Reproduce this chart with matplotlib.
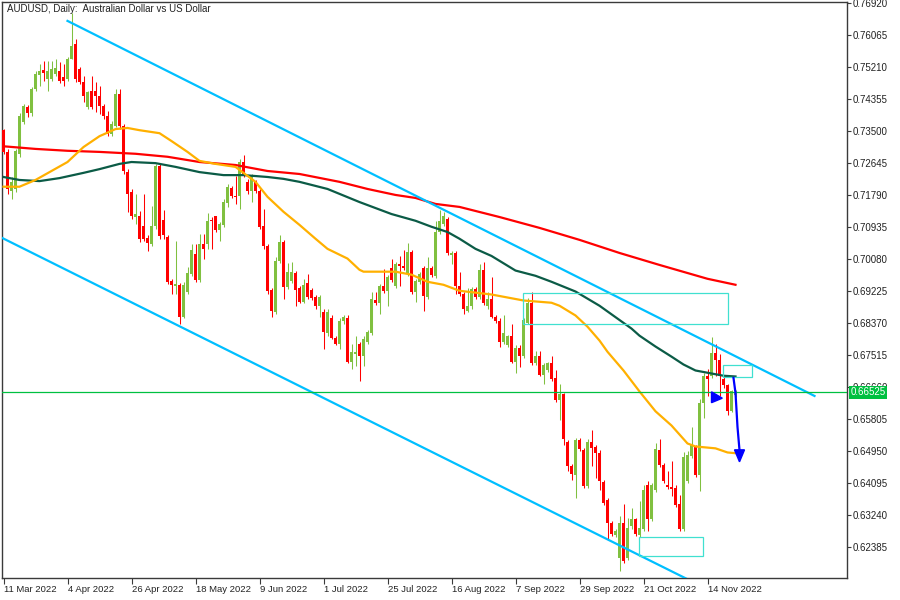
import numpy as np
import matplotlib.pyplot as plt
from matplotlib.patches import Rectangle, Polygon
from matplotlib.transforms import blended_transform_factory

plt.rcParams['font.family'] = ['Liberation Sans', 'DejaVu Sans']

# Daily candles (bar index 0 = 11 Mar 2022)
opens = [
    .7353, .7295, .7191, .7196, .7290, .7375, .7415, .7398, .7463, .7500,
    .7513, .7489, .7489, .7503, .7511, .7495, .7489, .7543, .7583, .7516,
    .7481, .7415, .7458, .7458, .7444, .7417, .7390, .7343, .7364, .7450,
    .7364, .7241, .7188, .7121, .7124, .7097, .7066, .7050, .7097, .7257,
    .7113, .7068, .6951, .6938, .6940, .6855, .6922, .6970, .7023, .6954,
    .7050, .7050, .7113, .7124, .7087, .7100, .7159, .7199, .7177, .7177,
    .7268, .7215, .7191, .7215, .7191, .7097, .7044, .6927, .6868, .7004,
    .7055, .6935, .6951, .6972, .6932, .6895, .6946, .6927, .6908, .6882,
    .6868, .6810, .6852, .6799, .6783, .6842, .6850, .6735, .6756, .6783,
    .6751, .6788, .6812, .6900, .6890, .6938, .6924, .6986, .6938, .6996,
    .6991, .6970, .7028, .6922, .6948, .6986, .6908, .6986, .6964, .7081,
    .7103, .7116, .7020, .7025, .6938, .6916, .6871, .6882, .6930, .6908,
    .6980, .6882, .6903, .6855, .6844, .6788, .6780, .6802, .6735, .6772,
    .6751, .6839, .6890, .6732, .6751, .6700, .6713, .6730, .6692, .6633,
    .6647, .6519, .6455, .6431, .6524, .6498, .6402, .6519, .6506, .6490,
    .6412, .6364, .6303, .6271, .6210, .6303, .6210, .6295, .6314, .6271,
    .6287, .6404, .6314, .6391, .6498, .6458, .6404, .6399, .6396, .6354,
    .6287, .6415, .6482, .6506, .6431, .6623, .6697, .6697, .6759, .6740,
    .6689, .6671, .6604, .6645,
]
highs = [
    .7356, .7303, .7228, .7303, .7398, .7423, .7420, .7468, .7511, .7530,
    .7538, .7538, .7538, .7543, .7535, .7530, .7548, .7665, .7596, .7521,
    .7497, .7458, .7497, .7481, .7471, .7423, .7404, .7378, .7463, .7463,
    .7370, .7249, .7196, .7183, .7138, .7183, .7073, .7151, .7263, .7263,
    .7140, .7073, .6956, .7058, .6946, .6948, .6988, .7050, .7050, .7076,
    .7076, .7132, .7121, .7124, .7108, .7169, .7209, .7204, .7231, .7276,
    .7287, .7223, .7236, .7220, .7196, .7143, .7050, .6932, .7015, .7073,
    .7060, .6999, .7001, .6978, .6938, .6956, .6970, .6932, .6914, .6914,
    .6876, .6876, .6858, .6804, .6850, .6860, .6858, .6783, .6804, .6788,
    .6802, .6820, .6922, .6922, .6943, .6983, .6967, .7010, .7002, .7018,
    .7034, .7052, .7034, .6956, .6975, .6991, .7015, .6991, .7111, .7140,
    .7135, .7121, .7031, .7031, .6975, .6922, .6932, .6935, .6935, .6996,
    .7002, .6922, .6962, .6860, .6850, .6860, .6807, .6836, .6778, .6778,
    .6852, .6906, .6922, .6764, .6764, .6732, .6735, .6751, .6711, .6676,
    .6652, .6524, .6460, .6530, .6530, .6503, .6527, .6551, .6511, .6498,
    .6418, .6370, .6308, .6287, .6322, .6354, .6316, .6343, .6316, .6362,
    .6404, .6415, .6410, .6516, .6527, .6463, .6442, .6468, .6404, .6378,
    .6492, .6495, .6559, .6511, .6636, .6705, .6716, .6801, .6783, .6756,
    .6695, .6676, .6660, .6660,
]
lows = [
    .7290, .7183, .7169, .7188, .7282, .7370, .7388, .7390, .7458, .7471,
    .7484, .7458, .7484, .7497, .7479, .7471, .7484, .7543, .7481, .7476,
    .7428, .7409, .7409, .7401, .7396, .7383, .7337, .7337, .7361, .7356,
    .7236, .7135, .7116, .7103, .7055, .7058, .7031, .7044, .7089, .7063,
    .7063, .6943, .6916, .6916, .6834, .6850, .6916, .6964, .6948, .6948,
    .7010, .7036, .7036, .7081, .7058, .7095, .7148, .7172, .7156, .7143,
    .7228, .7183, .7161, .7185, .7089, .7036, .6916, .6855, .6863, .6999,
    .6903, .6930, .6946, .6884, .6890, .6890, .6903, .6900, .6876, .6855,
    .6769, .6804, .6794, .6778, .6769, .6836, .6730, .6716, .6724, .6684,
    .6724, .6783, .6807, .6887, .6863, .6919, .6882, .6948, .6932, .6938,
    .6980, .6964, .6916, .6895, .6943, .6871, .6903, .6962, .6959, .7076,
    .7097, .7020, .6996, .6916, .6911, .6863, .6866, .6876, .6903, .6903,
    .6887, .6876, .6850, .6839, .6775, .6783, .6775, .6730, .6703, .6719,
    .6745, .6834, .6727, .6727, .6695, .6676, .6708, .6684, .6628, .6578,
    .6513, .6442, .6418, .6370, .6495, .6396, .6396, .6455, .6423, .6391,
    .6351, .6258, .6269, .6266, .6175, .6197, .6205, .6287, .6269, .6266,
    .6282, .6282, .6308, .6386, .6452, .6410, .6394, .6375, .6346, .6282,
    .6282, .6410, .6476, .6426, .6388, .6583, .6644, .6692, .6695, .6644,
    .6665, .6591, .6599, .6639,
]
closes = [
    .7295, .7196, .7215, .7298, .7390, .7417, .7398, .7463, .7503, .7511,
    .7505, .7511, .7516, .7519, .7484, .7484, .7543, .7577, .7489, .7481,
    .7444, .7455, .7415, .7444, .7417, .7390, .7343, .7370, .7450, .7364,
    .7244, .7183, .7124, .7129, .7063, .7063, .7052, .7097, .7257, .7071,
    .7073, .6948, .6940, .6943, .6855, .6940, .6972, .7033, .6954, .7050,
    .7036, .7111, .7111, .7087, .7103, .7161, .7201, .7177, .7175, .7268,
    .7236, .7191, .7231, .7191, .7095, .7044, .6924, .6871, .7004, .7055,
    .6935, .6975, .6975, .6927, .6895, .6940, .6908, .6906, .6882, .6908,
    .6815, .6868, .6799, .6783, .6844, .6855, .6735, .6761, .6761, .6751,
    .6796, .6815, .6903, .6892, .6938, .6924, .6962, .6954, .6996, .6991,
    .6986, .7028, .6922, .6951, .6970, .6911, .6986, .6967, .7081, .7111,
    .7124, .7025, .7025, .6938, .6916, .6876, .6882, .6930, .6908, .6980,
    .6892, .6903, .6855, .6844, .6788, .6812, .6802, .6735, .6772, .6751,
    .6847, .6892, .6732, .6751, .6700, .6727, .6730, .6689, .6633, .6647,
    .6527, .6455, .6434, .6524, .6500, .6402, .6519, .6503, .6490, .6415,
    .6356, .6303, .6274, .6282, .6303, .6202, .6290, .6314, .6274, .6290,
    .6391, .6314, .6404, .6500, .6458, .6415, .6399, .6394, .6351, .6287,
    .6479, .6484, .6511, .6431, .6623, .6697, .6687, .6759, .6740, .6697,
    .6671, .6604, .6655, .66525,
]

# moving averages, read at selected bars
ma_fast_x = [0, 4, 8, 12, 16, 20, 24, 28, 31, 34, 39, 42, 46, 49, 53, 58, 63, 66, 70, 74,
             78, 81, 86, 89, 90, 98, 102, 106, 110, 114, 122, 130, 137, 139, 143, 146,
             149, 151, 155, 159, 163, 167, 171, 173, 178, 181, 183]
ma_fast_y = [.7202, .7202, .7220, .7244, .7268, .7308, .7337, .7356, .7359, .7353, .7345,
             .7324, .7295, .7271, .7263, .7255, .7215, .7175, .7135, .7100, .7063, .7036,
             .7010, .6980, .6975, .6975, .6967, .6948, .6940, .6924, .6914, .6898, .6892,
             .6884, .6858, .6828, .6791, .6761, .6711, .6655, .6602, .6564, .6516, .6508,
             .6503, .6492, .6490]
ma_mid_x = [0, 4, 9, 14, 20, 24, 29, 32, 38, 43, 49, 55, 60, 66, 70, 74, 81, 89, 97, 103,
            107, 111, 114, 118, 122, 128, 133, 137, 143, 149, 157, 159, 163, 167, 170, 173,
            177, 180, 183]
ma_mid_y = [.7228, .7220, .7217, .7225, .7239, .7249, .7263, .7268, .7265, .7255, .7241,
            .7233, .7233, .7228, .7223, .7215, .7196, .7161, .7129, .7111, .7095, .7081,
            .7063, .7036, .7017, .6978, .6964, .6948, .6922, .6884, .6823, .6804, .6775,
            .6748, .6727, .6711, .6703, .6697, .6695]
ma_slow_x = [0, 8, 16, 24, 33, 41, 49, 58, 66, 74, 84, 91, 98, 103, 108, 114, 124, 134,
             144, 154, 164, 176, 183]
ma_slow_y = [.7310, .7303, .7298, .7295, .7290, .7282, .7268, .7260, .7244, .7236, .7215,
             .7196, .7180, .7172, .7156, .7148, .7121, .7092, .7060, .7025, .6993, .6956,
             .6940]

# drawn objects: channel, zones, projection
channel_top = [(16, 0.7645), (202.75, 0.6643)]
channel_bottom = [(-2, 0.7074), (172, 0.6148)]
zones = [(129.75, 181.0, 0.6835, 0.6918),
         (179.75, 187.0, 0.6694, 0.6726),
         (158.75, 174.75, 0.6215, 0.6266)]
proj_x = [182.5, 183.0, 183.5, 184.0]
proj_y = [0.6691, 0.6651, 0.6560, 0.6498]
last_price = 0.66525

date_pos = [0, 16, 32, 48, 64, 80, 96, 112, 128, 144, 160, 176]
date_labels = ["11 Mar 2022", "4 Apr 2022", "26 Apr 2022", "18 May 2022", "9 Jun 2022",
               "1 Jul 2022", "25 Jul 2022", "16 Aug 2022", "7 Sep 2022", "29 Sep 2022",
               "21 Oct 2022", "14 Nov 2022"]
price_ticks = [0.76920, 0.76065, 0.75210, 0.74355, 0.73500, 0.72645, 0.71790, 0.70935,
               0.70080, 0.69225, 0.68370, 0.67515, 0.66660, 0.65805, 0.64950, 0.64095,
               0.63240, 0.62385]

bull = '#80C040'
bear = '#FF0000'
frame = '#3A3A3A'

fig = plt.figure(figsize=(9, 6), dpi=100)
ax = fig.add_axes([2 / 900, 22 / 600, 845 / 900, 576 / 600])

o = np.array(opens)
h = np.array(highs)
l = np.array(lows)
c = np.array(closes)
idx = np.arange(len(c))
cols = np.where(c >= o, bull, bear)

ax.vlines(idx, l, h, colors=cols, lw=0.75, zorder=2)
ax.bar(idx, np.maximum(np.abs(c - o), 0.0003), bottom=np.minimum(o, c),
       width=0.75, color=cols, linewidth=0, zorder=3)

ax.plot(ma_slow_x, ma_slow_y, color='#FF0000', lw=1.6, zorder=4)
ax.plot(ma_mid_x, ma_mid_y, color='#0B5B46', lw=1.6, zorder=4)
ax.plot(ma_fast_x, ma_fast_y, color='#FFB000', lw=1.6, zorder=4)

for line in (channel_top, channel_bottom):
    xs, ys = zip(*line)
    ax.plot(xs, ys, color='#00BFFF', lw=1.6, zorder=5)

for x0, x1, y0, y1 in zones:
    ax.add_patch(Rectangle((x0, y0), x1 - x0, y1 - y0, fill=False,
                           edgecolor='#40E0D0', lw=0.9, zorder=5))

ax.axhline(last_price, color='#00C040', lw=0.9, zorder=5)

# blue projection arrow and marker
ax.plot(proj_x, proj_y, color='#0000FF', lw=1.6, zorder=6)
ax.add_patch(Polygon([(182.75, 0.6499), (185.25, 0.6499), (184.0, 0.6467)],
                     closed=True, color='#0000FF', zorder=6))
ax.add_patch(Polygon([(177.0, 0.6654), (177.0, 0.6625), (179.7, 0.6637)],
                     closed=True, color='#0000FF', zorder=6))

# shifted by an eighth of a bar so bodies sit on whole pixels
ax.set_xlim(-0.375, 210.875)
ax.set_ylim(0.61566, 0.76955)

ax.yaxis.tick_right()
ax.set_yticks(price_ticks)
ax.set_yticklabels([f"{p:.5f}" for p in price_ticks])
ax.set_xticks(date_pos)
ax.set_xticklabels(date_labels)
for lab in ax.get_xticklabels():
    lab.set_horizontalalignment('left')

ax.tick_params(axis='y', direction='out', length=3, width=0.8, pad=1,
               labelsize=7, colors=frame, labelcolor='#222222')
ax.tick_params(axis='x', direction='out', length=4, width=0.8, pad=1,
               labelsize=6.8, colors=frame, labelcolor='#222222')
for s in ax.spines.values():
    s.set_color(frame)
    s.set_linewidth(1.0)

trans = blended_transform_factory(ax.transAxes, ax.transData)
ax.text(1.0045, last_price, f"{last_price:.5f}", transform=trans, color='white',
        fontsize=7, va='center', ha='left', clip_on=False, zorder=10,
        bbox=dict(boxstyle='square,pad=0.15', facecolor='#00C040', edgecolor='none'))

ax.text(0.006, 0.987, "AUDUSD, Daily:  Australian Dollar vs US Dollar",
        transform=ax.transAxes, fontsize=7, color='#222222', va='center', ha='left')

fig.savefig('out.png', dpi=100)
